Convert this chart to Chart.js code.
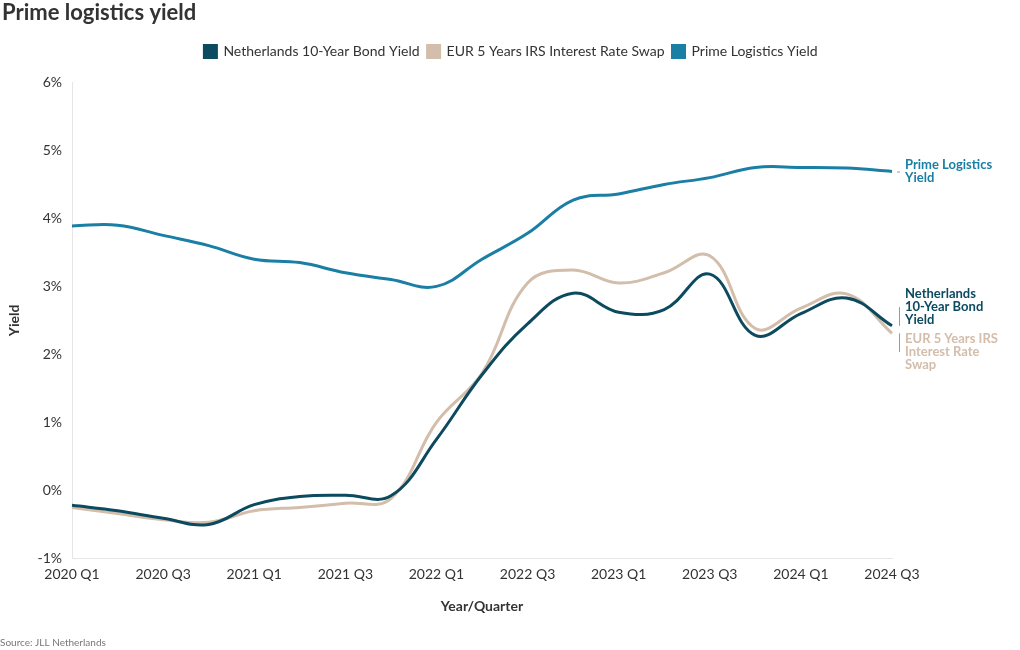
<!DOCTYPE html>
<html>
<head>
<meta charset="utf-8">
<script src="https://cdn.jsdelivr.net/npm/chart.js@4"></script>
<style>
  html, body { margin: 0; padding: 0; background: #fff; }
  #wrap { width: 1020px; height: 650px; }
</style>
</head>
<body>
<div id="wrap"><canvas id="chart" width="1020" height="650"></canvas></div>
<script>
// Dados
const quarters = [
  '2020 Q1', '2020 Q2', '2020 Q3', '2020 Q4',
  '2021 Q1', '2021 Q2', '2021 Q3', '2021 Q4',
  '2022 Q1', '2022 Q2', '2022 Q3', '2022 Q4',
  '2023 Q1', '2023 Q2', '2023 Q3', '2023 Q4',
  '2024 Q1', '2024 Q2', '2024 Q3'
];
const bondYield = [-0.22, -0.3, -0.41, -0.5, -0.21, -0.09, -0.07, -0.08, 0.75, 1.7, 2.45, 2.9, 2.62, 2.66, 3.18, 2.28, 2.6, 2.83, 2.42];
const irsSwap = [-0.25, -0.34, -0.43, -0.47, -0.3, -0.25, -0.19, -0.12, 1.0, 1.72, 3.05, 3.24, 3.05, 3.2, 3.45, 2.38, 2.68, 2.89, 2.31];
const primeYield = [3.89, 3.9, 3.75, 3.6, 3.4, 3.35, 3.2, 3.1, 3.0, 3.4, 3.78, 4.27, 4.36, 4.5, 4.6, 4.75, 4.75, 4.74, 4.69];
const yTicks = [-1, 0, 1, 2, 3, 4, 5, 6];

const seriesNames = ['Netherlands 10-Year Bond Yield', 'EUR 5 Years IRS Interest Rate Swap', 'Prime Logistics Yield'];
const endLabels = [
  ['Netherlands', '10-Year Bond', 'Yield'],
  ['EUR 5 Years IRS', 'Interest Rate', 'Swap'],
  ['Prime Logistics', 'Yield']
];
const colors = ['#0c4a5f', '#d3bdab', '#1a7ea5'];

const FONT = 'Lato, "Noto Sans", sans-serif';

// Espaço extra abaixo da legenda
const legendGapPlugin = {
  id: 'legendGap',
  beforeInit(chart) {
    const fit = chart.legend.fit;
    chart.legend.fit = function() {
      fit.bind(chart.legend)();
      this.height += 14;
    };
  }
};

// Rótulos no fim das linhas
const endLabelPlugin = {
  id: 'endLabels',
  afterDatasetsDraw(chart) {
    const ctx = chart.ctx;
    const lineH = 13;
    const items = chart.data.datasets.map((ds, i) => {
      const meta = chart.getDatasetMeta(i);
      const pt = meta.data[meta.data.length - 1];
      const h = endLabels[i].length * lineH;
      return { i, px: pt.x, py: pt.y, cy: pt.y, h };
    }).sort((a, b) => a.py - b.py);

    // afastar blocos sobrepostos
    const gap = 6;
    for (let k = 0; k < 20; k++) {
      for (let j = 1; j < items.length; j++) {
        const a = items[j - 1], b = items[j];
        const need = (a.h + b.h) / 2 + gap;
        if (b.cy - a.cy < need) {
          const push = (need - (b.cy - a.cy)) / 2;
          a.cy -= push;
          b.cy += push;
        }
      }
    }

    ctx.save();
    ctx.font = 'bold 13px ' + FONT;
    ctx.textBaseline = 'middle';
    ctx.textAlign = 'left';
    items.forEach(it => {
      const lines = endLabels[it.i];
      const x = it.px + 13;
      const top = it.cy - it.h / 2;
      ctx.fillStyle = colors[it.i];
      lines.forEach((t, n) => ctx.fillText(t, x, top + lineH / 2 + n * lineH));
      // linha guia
      ctx.strokeStyle = '#999';
      ctx.lineWidth = 1;
      ctx.beginPath();
      if (Math.abs(it.cy - it.py) < 3) {
        ctx.moveTo(it.px + 5, it.py + 0.5);
        ctx.lineTo(it.px + 8, it.py + 0.5);
      } else {
        const y1 = Math.min(it.cy, it.py), y2 = Math.max(it.cy, it.py);
        ctx.moveTo(it.px + 7.5, y1);
        ctx.lineTo(it.px + 7.5, y2);
      }
      ctx.stroke();
    });
    ctx.restore();
  }
};

// Fonte no rodapé
const sourcePlugin = {
  id: 'sourceNote',
  afterDraw(chart) {
    const ctx = chart.ctx;
    ctx.save();
    ctx.font = '10px ' + FONT;
    ctx.fillStyle = '#777';
    ctx.textBaseline = 'middle';
    ctx.fillText('Source: JLL Netherlands', 0, 643);
    ctx.restore();
  }
};

const datasets = [bondYield, irsSwap, primeYield].map((vals, i) => ({
  label: seriesNames[i],
  data: vals,
  borderColor: colors[i],
  backgroundColor: colors[i],
  borderWidth: 3,
  pointRadius: 0,
  pointHoverRadius: 0,
  tension: 0.4,
  fill: false
}));

new Chart(document.getElementById('chart'), {
  type: 'line',
  data: { labels: quarters, datasets },
  options: {
    responsive: false,
    animation: false,
    layout: { padding: { left: 2, right: 0, top: 0, bottom: 31 } },
    plugins: {
      title: {
        display: true,
        text: 'Prime logistics yield',
        align: 'start',
        color: '#333',
        font: { family: FONT, size: 22, weight: 'bold' },
        padding: { top: 0, bottom: 10 }
      },
      legend: {
        display: true,
        labels: {
          color: '#333',
          font: { family: FONT, size: 14 },
          boxWidth: 12,
          boxHeight: 12,
          padding: 8
        }
      },
      tooltip: { enabled: false }
    },
    scales: {
      x: {
        offset: false,
        grid: { display: false, drawTicks: false },
        border: { display: true, color: '#e6e6e6' },
        ticks: {
          autoSkip: false,
          maxRotation: 0,
          color: '#333',
          padding: 8,
          font: { family: FONT, size: 14 },
          callback: function(value, index) {
            return index % 2 === 0 ? quarters[index] : '';
          }
        },
        title: {
          display: true,
          text: 'Year/Quarter',
          color: '#333',
          font: { family: FONT, size: 14, weight: 'bold' },
          padding: { top: 7 }
        }
      },
      y: {
        min: -1,
        max: 6,
        afterBuildTicks: function(scale) {
          scale.ticks = yTicks.map(v => ({ value: v }));
        },
        afterFit: function(scale) {
          scale.width = 70;
        },
        grid: { display: false, drawTicks: false },
        border: { display: true, color: '#e6e6e6' },
        ticks: {
          color: '#333',
          padding: 10,
          font: { family: FONT, size: 14 },
          callback: v => v + '%'
        },
        title: {
          display: true,
          text: 'Yield',
          color: '#333',
          font: { family: FONT, size: 14, weight: 'bold' }
        }
      },
      // eixo vazio à direita, só para reservar espaço dos rótulos
      yRight: {
        type: 'linear',
        position: 'right',
        display: true,
        min: -1,
        max: 6,
        afterFit: function(scale) {
          scale.width = 128;
        },
        grid: { display: false, drawTicks: false },
        border: { display: false },
        ticks: { display: false }
      }
    }
  },
  plugins: [legendGapPlugin, endLabelPlugin, sourcePlugin]
});
</script>
</body>
</html>
